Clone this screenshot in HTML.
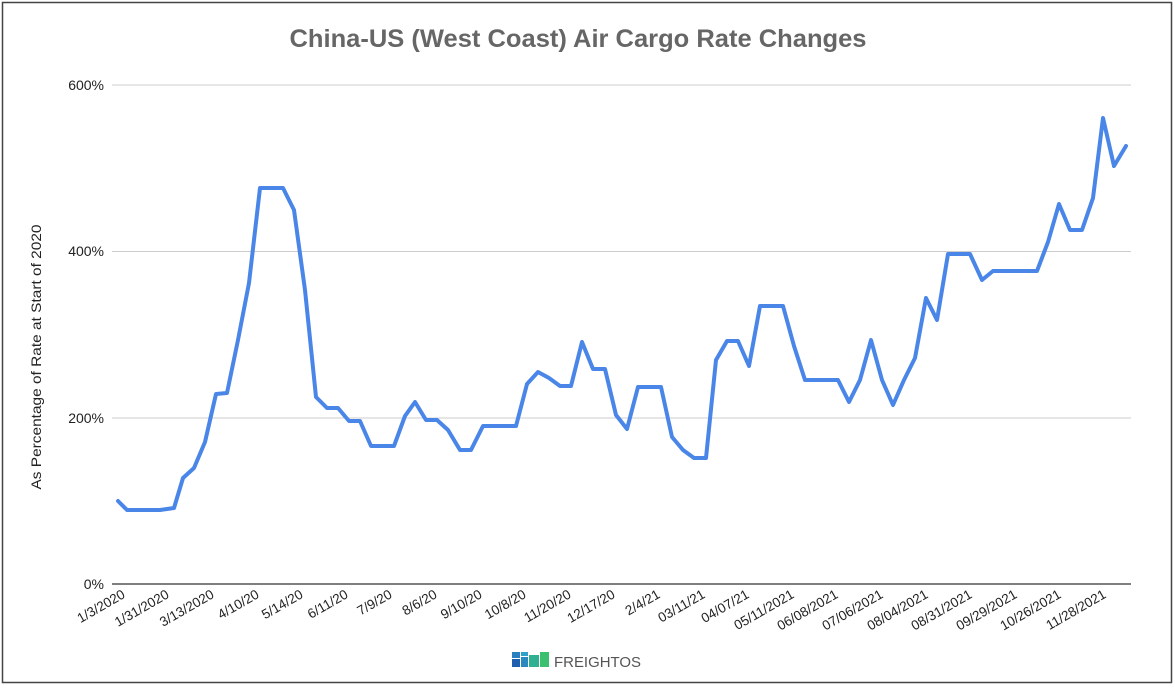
<!DOCTYPE html>
<html><head><style>
html,body{margin:0;padding:0;background:#fff;}
body{width:1175px;height:686px;overflow:hidden;font-family:"Liberation Sans",Arial,sans-serif;}
</style></head><body>
<svg width="1175" height="686" xmlns="http://www.w3.org/2000/svg" font-family="Liberation Sans, Arial, sans-serif">
<rect x="2.5" y="2.5" width="1169" height="680" fill="#fff" stroke="#444" stroke-width="1.5"/>
<text x="578" y="47" text-anchor="middle" font-size="25" font-weight="bold" fill="#666" textLength="577" lengthAdjust="spacingAndGlyphs">China-US (West Coast) Air Cargo Rate Changes</text>
<g stroke="#ccc" stroke-width="1">
<line x1="112" y1="85" x2="1131" y2="85"/>
<line x1="112" y1="251.5" x2="1131" y2="251.5"/>
<line x1="112" y1="418" x2="1131" y2="418"/>
</g>
<line x1="112" y1="584" x2="1131" y2="584" stroke="#333" stroke-width="1.3"/>
<g font-size="14" fill="#222" text-anchor="end">
<text x="104" y="90">600%</text>
<text x="104" y="256">400%</text>
<text x="104" y="423">200%</text>
<text x="104" y="589">0%</text>
</g>
<text transform="translate(41,357) rotate(-90)" text-anchor="middle" font-size="14" fill="#222" textLength="265" lengthAdjust="spacingAndGlyphs">As Percentage of Rate at Start of 2020</text>
<g font-size="13.5" fill="#222" text-anchor="end">
<text transform="translate(126,597) rotate(-30)">1/3/2020</text>
<text transform="translate(170,597) rotate(-30)">1/31/2020</text>
<text transform="translate(215,597) rotate(-30)">3/13/2020</text>
<text transform="translate(260,597) rotate(-30)">4/10/20</text>
<text transform="translate(304,597) rotate(-30)">5/14/20</text>
<text transform="translate(349,597) rotate(-30)">6/11/20</text>
<text transform="translate(393,597) rotate(-30)">7/9/20</text>
<text transform="translate(438,597) rotate(-30)">8/6/20</text>
<text transform="translate(483,597) rotate(-30)">9/10/20</text>
<text transform="translate(527,597) rotate(-30)">10/8/20</text>
<text transform="translate(572,597) rotate(-30)">11/20/20</text>
<text transform="translate(616,597) rotate(-30)">12/17/20</text>
<text transform="translate(661,597) rotate(-30)">2/4/21</text>
<text transform="translate(706,597) rotate(-30)">03/11/21</text>
<text transform="translate(750,597) rotate(-30)">04/07/21</text>
<text transform="translate(795,597) rotate(-30)">05/11/2021</text>
<text transform="translate(839,597) rotate(-30)">06/08/2021</text>
<text transform="translate(884,597) rotate(-30)">07/06/2021</text>
<text transform="translate(929,597) rotate(-30)">08/04/2021</text>
<text transform="translate(973,597) rotate(-30)">08/31/2021</text>
<text transform="translate(1018,597) rotate(-30)">09/29/2021</text>
<text transform="translate(1062,597) rotate(-30)">10/26/2021</text>
<text transform="translate(1107,597) rotate(-30)">11/28/2021</text>
</g>
<polyline fill="none" stroke="#4a86e8" stroke-width="4" stroke-linejoin="round" stroke-linecap="round" points="118,501 127,510 160,510 167,509 174,508 183,478 194,468 205,442 216,394 227,393 238,340 249,283 260,188 283,188 294,210 305,290 316,397 327,408 338,408 349,421 360,421 371,446 394,446 405,416 415,402 426,420 437,420 448,430 460,450 471,450 483,426 516,426 527,384 538,372 549,378 560,386 571,386 582,342 593,369 605,369 616,415 627,429 638,387 661,387 672,437 683,450 694,458 706,458 716,360 727,341 738,341 749,366 760,306 783,306 794,346 805,380 838,380 849,402 860,380 871,340 882,380 893,405 904,380 915,358 926,298 937,320 948,254 970,254 982,280 993,271 1037,271 1048,242 1059,204 1070,230 1082,230 1093,198 1103,118 1114,166 1126,146"/>
<g>
<rect x="512" y="652" width="8" height="6" fill="#2a7fc0"/>
<rect x="512" y="659" width="8" height="8" fill="#1f5fb0"/>
<rect x="521" y="652" width="7" height="4" fill="#2fa0c8"/>
<rect x="521" y="657" width="7" height="10" fill="#2a8ac0"/>
<rect x="529" y="655" width="10" height="12" fill="#30b090"/>
<rect x="540" y="652" width="9" height="15" fill="#3cc070"/>
</g>
<text x="554" y="667" font-size="15" fill="#555" textLength="87" lengthAdjust="spacingAndGlyphs">FREIGHTOS</text>
</svg>
</body></html>
